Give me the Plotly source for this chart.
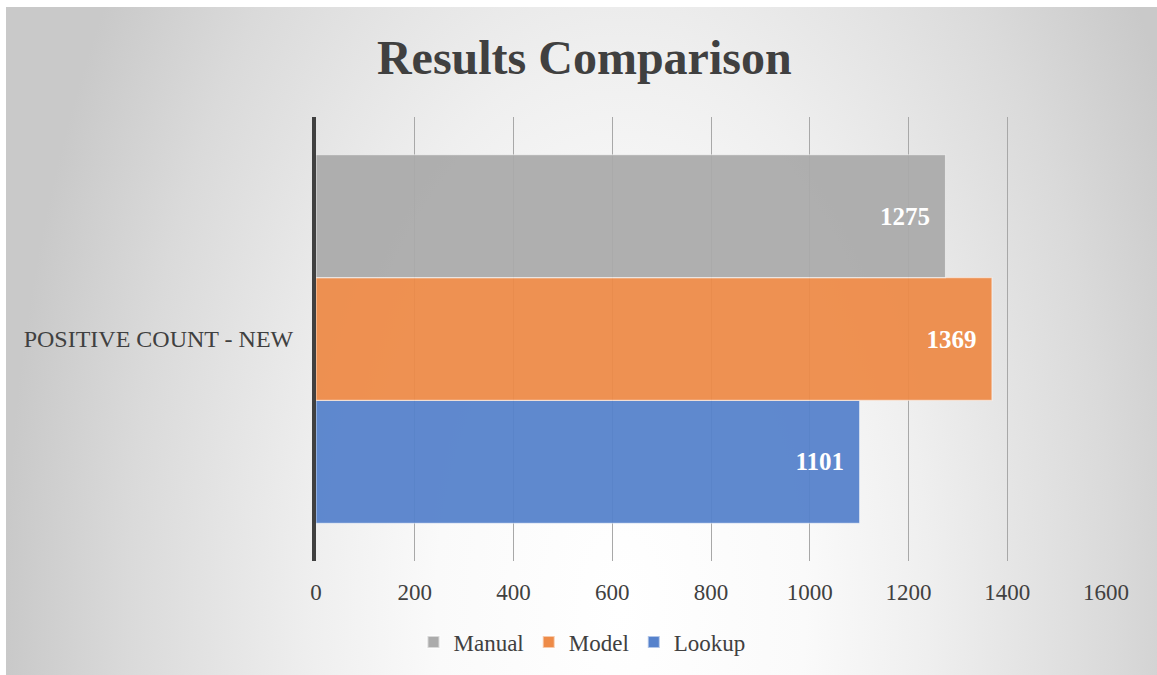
import base64
import plotly.graph_objects as go

categories = ["POSITIVE COUNT - NEW"]
series_names = ["Manual", "Model", "Lookup"]
series_values = {
    "Manual": [1275],
    "Model": [1369],
    "Lookup": [1101],
}
series_colors = {
    "Manual": "#ABABAB",
    "Model": "#EE8B48",
    "Lookup": "#5682CC",
}
x_ticks = [0, 200, 400, 600, 800, 1000, 1200, 1400, 1600]

FONT = "Liberation Serif"
W, H = 1157, 675
L, R, T, B = 316, 51, 117, 114
pw, ph = W - L - R, H - T - B

BW, BH = W - 6, H - 7
svg = (
    f'<svg xmlns="http://www.w3.org/2000/svg" width="{BW}" height="{BH}" viewBox="0 0 {BW} {BH}" preserveAspectRatio="none">'
    '<defs><radialGradient id="g" gradientUnits="userSpaceOnUse" cx="615" cy="600" r="615" '
    'gradientTransform="translate(615,600) scale(1,1.8) translate(-615,-600)">'
    '<stop offset="0" stop-color="#FFFFFF"/>'
    '<stop offset="0.3" stop-color="#FAFAFA"/>'
    '<stop offset="0.5" stop-color="#EFEFEF"/>'
    '<stop offset="0.8" stop-color="#DADADA"/>'
    '<stop offset="1" stop-color="#C9C9C9"/>'
    '</radialGradient></defs>'
    f'<rect x="0" y="0" width="{BW}" height="{BH}" fill="#C5C5C5"/>'
    f'<rect x="0" y="0" width="{BW}" height="{BH}" fill="url(#g)"/></svg>'
)
src = "data:image/svg+xml;base64," + base64.b64encode(svg.encode()).decode()

fig = go.Figure()
for name in reversed(series_names):
    fig.add_trace(go.Bar(
        y=categories,
        x=series_values[name],
        name=name,
        orientation="h",
        marker=dict(color=series_colors[name], opacity=0.94,
                    line=dict(color="rgba(255,255,255,0.55)", width=1.2)),
        text=[str(v) + "  " for v in series_values[name]],
        textposition="inside",
        insidetextanchor="end",
        textfont=dict(family=FONT, size=25, color="white", weight="bold"),
        cliponaxis=False,
    ))

x0p = (6 - L) / pw
y0p = (H - B - 7) / ph
fig.add_layout_image(dict(
    source=src, xref="paper", yref="paper",
    x=x0p, y=y0p, sizex=BW / pw, sizey=BH / ph,
    xanchor="left", yanchor="top", sizing="stretch", layer="below",
))

fig.update_layout(
    width=W, height=H,
    margin=dict(l=L, r=R, t=T, b=B),
    paper_bgcolor="white",
    plot_bgcolor="rgba(0,0,0,0)",
    barmode="group",
    bargap=0.17,
    bargroupgap=0,
    font=dict(family=FONT, size=23, color="#404040"),
    title=dict(text="<b>Results Comparison</b>", x=0.505, xref="container",
               y=1 - 57 / H, yref="container", xanchor="center", yanchor="middle",
               font=dict(family=FONT, size=48, color="#404040")),
    legend=dict(orientation="h", x=0.503, xref="container", xanchor="center",
                y=1 - 642 / H, yref="container", yanchor="middle",
                traceorder="reversed", font=dict(family=FONT, size=23, color="#404040"),
                itemwidth=30, itemsizing="constant", bgcolor="rgba(0,0,0,0)"),
    showlegend=True,
)
fig.update_xaxes(range=[0, 1600], tickvals=x_ticks, showgrid=True,
                 gridcolor="#A8A8A8", gridwidth=1, zeroline=False,
                 showline=False, ticks="", ticklabelstandoff=15,
                 tickfont=dict(family=FONT, size=23, color="#404040"), fixedrange=True)
fig.update_yaxes(showline=True, linecolor="#404040", linewidth=4,
                 ticks="", ticklabelstandoff=14, showgrid=False,
                 tickfont=dict(family=FONT, size=24, color="#404040"), fixedrange=True)

fig.write_html("out.html", config={"displayModeBar": False},
               post_script="document.body.style.margin='0';document.body.style.overflow='hidden';")
